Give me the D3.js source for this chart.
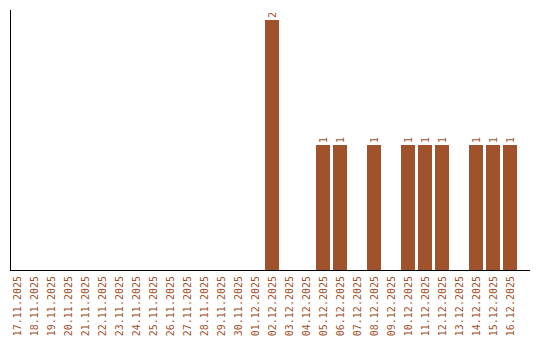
<!DOCTYPE html>
<html>
<head>
<meta charset="utf-8">
<script src="https://cdn.jsdelivr.net/npm/d3@7"></script>
<style>
  body { margin: 0; background: #fff; }
  svg { display: block; font-family: "DejaVu Sans Mono", monospace; }
</style>
</head>
<body>
<svg id="chart" width="540" height="340"></svg>
<script>
const dates = [
  "17.11.2025", "18.11.2025", "19.11.2025", "20.11.2025", "21.11.2025",
  "22.11.2025", "23.11.2025", "24.11.2025", "25.11.2025", "26.11.2025",
  "27.11.2025", "28.11.2025", "29.11.2025", "30.11.2025", "01.12.2025",
  "02.12.2025", "03.12.2025", "04.12.2025", "05.12.2025", "06.12.2025",
  "07.12.2025", "08.12.2025", "09.12.2025", "10.12.2025", "11.12.2025",
  "12.12.2025", "13.12.2025", "14.12.2025", "15.12.2025", "16.12.2025"
];
const counts = [
  0, 0, 0, 0, 0, 0, 0, 0, 0, 0, 0, 0, 0, 0, 0,
  2, 0, 0, 1, 1, 0, 1, 0, 1, 1, 1, 0, 1, 1, 1
];

const color = "#a0522d";
const svg = d3.select("#chart");
const rows = dates.map((d, i) => ({ date: d, value: counts[i] }));

const x = d3.scaleBand()
  .domain(dates)
  .range([10, 517])
  .paddingInner(3 / 17)
  .paddingOuter(0)
  .align(0);

const y = d3.scaleLinear().domain([0, 2]).range([270, 20]);

// bars
svg.append("g")
  .selectAll("rect")
  .data(rows.filter((d) => d.value > 0))
  .join("rect")
  .attr("x", (d) => x(d.date))
  .attr("y", (d) => y(d.value))
  .attr("width", x.bandwidth())
  .attr("height", (d) => y(0) - y(d.value))
  .attr("fill", color);

// value labels
svg.append("g")
  .selectAll("text")
  .data(rows.filter((d) => d.value > 0))
  .join("text")
  .attr("transform", (d) => `translate(${x(d.date) + x.bandwidth() / 2},${y(d.value) - 2}) rotate(-90)`)
  .attr("dy", "0.35em")
  .attr("font-size", 10)
  .attr("fill", color)
  .text((d) => d.value);

// axes lines
svg.append("line")
  .attr("x1", 10.5).attr("x2", 10.5)
  .attr("y1", 10).attr("y2", 270)
  .attr("stroke", "#000");
svg.append("line")
  .attr("x1", 10).attr("x2", 530)
  .attr("y1", 270.5).attr("y2", 270.5)
  .attr("stroke", "#000");

// date labels
svg.append("g")
  .selectAll("text")
  .data(dates)
  .join("text")
  .attr("transform", (d) => `translate(${x(d) + x.bandwidth() / 2},276) rotate(-90)`)
  .attr("dy", "0.35em")
  .attr("text-anchor", "end")
  .attr("font-size", 10)
  .attr("fill", color)
  .text((d) => d);
</script>
</body>
</html>
